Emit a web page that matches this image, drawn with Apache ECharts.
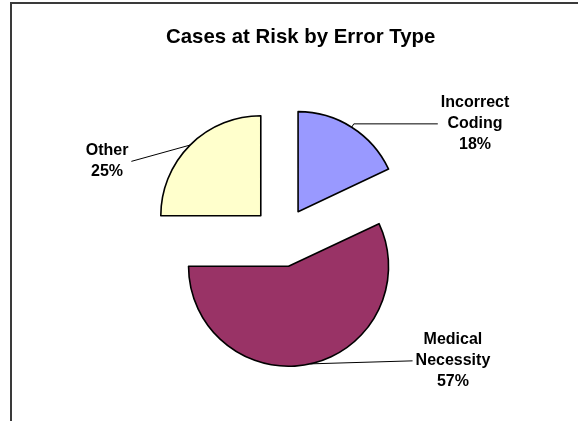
<!DOCTYPE html>
<html>
<head>
<meta charset="utf-8">
<script src="https://cdn.jsdelivr.net/npm/echarts@6/dist/echarts.min.js"></script>
<style>
  html, body { margin: 0; padding: 0; background: #fff; overflow: hidden; }
  #wrap { position: relative; width: 578px; height: 421px; overflow: hidden; }
  #frame { position: absolute; left: 10px; top: 2px; width: 700px; height: 500px; border-left: 2px solid #3a3a3a; border-top: 2px solid #3a3a3a; }
  #chart { position: absolute; left: 0; top: 0; width: 578px; height: 421px; }
</style>
</head>
<body>
<div id="wrap">
  <div id="frame"></div>
  <div id="chart"></div>
</div>
<script>
// Cases at Risk by Error Type - exploded pie, labels outside with leader lines
const categories = ['Incorrect Coding', 'Medical Necessity', 'Other']
const values = [18, 57, 25]
const colors = ['#9999FF', '#993366', '#FFFFCC']
// leader line [radial, horizontal] per slice
const leaderLens = [[4, 84], [1, 102], [1, 58]]
// vertical nudge of each label (leader end follows)
const labelShift = [0, -4, 17]

const FONT = '"Liberation Sans", Arial, Helvetica, sans-serif'

const chart = echarts.init(document.getElementById('chart'), null, { renderer: 'canvas' })

chart.setOption({
  animation: false,
  title: {
    text: 'Cases at Risk by Error Type',
    left: 166, top: 27, padding: 0,
    textStyle: { fontFamily: FONT, fontSize: 20.4, fontWeight: 'bold', color: '#000' }
  },
  series: [{
    type: 'pie',
    center: [282, 237],
    radius: 100,
    startAngle: 90,
    clockwise: true,
    selectedMode: 'multiple',
    selectedOffset: 30,
    avoidLabelOverlap: false,
    percentPrecision: 0,
    itemStyle: { borderColor: '#000', borderWidth: 1.6 },
    select: { itemStyle: { borderColor: '#000', borderWidth: 1.6 } },
    emphasis: { disabled: true },
    label: {
      show: true,
      position: 'outside',
      distanceToLabelLine: 3,
      formatter: (p) => p.name.split(' ').map(w => `{c|${w}}`).join('\n') + `\n{c|${p.percent}%}`,
      rich: {
        c: { fontFamily: FONT, fontSize: 16, fontWeight: 'bold', lineHeight: 21, color: '#000', align: 'center' }
      }
    },
    labelLine: { show: true, smooth: false, lineStyle: { color: '#000', width: 1 } },
    labelLayout: (p) => {
      const s = labelShift[p.dataIndex]
      const pts = p.labelLinePoints
      if (!s || !pts) return {}
      const last = pts[pts.length - 1]
      return { dy: s, labelLinePoints: [pts[0], [last[0], last[1] + s]] }
    },
    data: values.map((v, i) => ({
      value: v,
      name: categories[i],
      selected: true,
      itemStyle: { color: colors[i] },
      labelLine: { length: leaderLens[i][0], length2: leaderLens[i][1] }
    }))
  }]
})
</script>
</body>
</html>
